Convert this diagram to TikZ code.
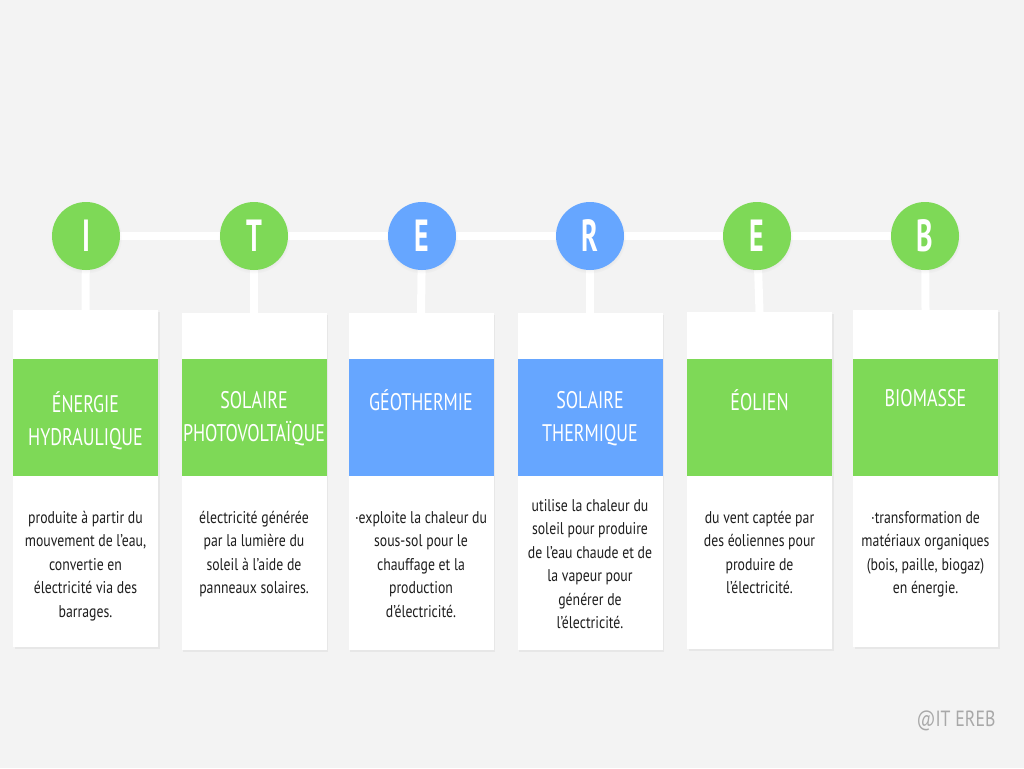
\documentclass[tikz,border=0pt]{standalone}
\usepackage{fontspec}
\setmainfont{PT Sans}[FakeStretch=0.81]
\newfontfamily\headfont{PT Sans}[FakeStretch=0.75]
\newfontfamily\letterfont{PT Sans}[FakeStretch=0.62]
\usetikzlibrary{shadows}
\definecolor{paper}{HTML}{F3F3F3}
\definecolor{leaf}{HTML}{7ED957}
\definecolor{sky}{HTML}{66A6FF}
\definecolor{ink}{HTML}{1E1E1E}
\definecolor{mark}{HTML}{A8A8A8}
\pgfdeclarelayer{background}
\pgfdeclarelayer{links}
\pgfsetlayers{background,links,main}
\begin{document}
\begin{tikzpicture}[x=1pt,y=-1pt,
  dot/.style={circle, minimum size=68pt, inner sep=0pt, text=white,
    font=\letterfont\bfseries\fontsize{45}{45}\selectfont,
    circular drop shadow={shadow xshift=0pt, shadow yshift=-1.5pt, shadow scale=1.06, opacity=0.12}},
  card/.style={rectangle, fill=white, minimum width=145pt, minimum height=337pt,
    inner sep=0pt, anchor=north,
    drop shadow={shadow xshift=1.5pt, shadow yshift=-1.5pt, opacity=0.10}},
  band/.style={rectangle, minimum width=145pt, minimum height=117pt,
    inner sep=0pt, anchor=north},
  title/.style={anchor=north, align=center, text=white, inner sep=0pt,
    font=\headfont\fontsize{24}{33}\selectfont},
  body/.style={anchor=north, align=center, text=ink, inner sep=0pt,
    font=\fontsize{17}{23.5}\selectfont},
  link/.style={draw=white, line width=8pt}]

\begin{pgfonlayer}{background}
  \fill[paper] (0,0) rectangle (1024,768);
\end{pgfonlayer}
\useasboundingbox (0,0) rectangle (1024,768);

% letter discs
\node[dot, fill=leaf] (c1) at (86,236) {I};
\node[dot, fill=leaf] (c2) at (254,236) {T};
\node[dot, fill=sky]  (c3) at (422,236) {E};
\node[dot, fill=sky]  (c4) at (590,236) {R};
\node[dot, fill=leaf] (c5) at (757,236) {E};
\node[dot, fill=leaf] (c6) at (925,236) {B};

% cards
\node[card] (k1) at (85.5,310) {};
\node[card] (k2) at (254,313) {};
\node[card] (k3) at (421,313) {};
\node[card] (k4) at (590,313) {};
\node[card] (k5) at (759.5,312) {};
\node[card] (k6) at (925.5,310) {};

% coloured bands
\node[band, fill=leaf] (b1) at (85.5,359) {};
\node[band, fill=leaf] (b2) at (254,359) {};
\node[band, fill=sky]  (b3) at (421,359) {};
\node[band, fill=sky]  (b4) at (590,359) {};
\node[band, fill=leaf] (b5) at (759.5,359) {};
\node[band, fill=leaf] (b6) at (925.5,359) {};

% titles
\node[title] (h1) at (85.5,391) {ÉNERGIE\\HYDRAULIQUE};
\node[title] (h2) at (254,391) {SOLAIRE\\PHOTOVOLTAÏQUE};
\node[title] (h3) at (421,389) {GÉOTHERMIE};
\node[title] (h4) at (590,391) {SOLAIRE\\THERMIQUE};
\node[title] (h5) at (759.5,389) {ÉOLIEN};
\node[title] (h6) at (925.5,389) {BIOMASSE};

% descriptions
\node[body] (t1) at (85.5,511) {produite à partir du\\mouvement de l'eau,\\convertie en\\électricité via des\\barrages.};
\node[body] (t2) at (254,511) {électricité générée\\par la lumière du\\soleil à l'aide de\\panneaux solaires.};
\node[body] (t3) at (421,511) {·exploite la chaleur du\\sous-sol pour le\\chauffage et la\\production\\d'électricité.};
\node[body] (t4) at (590,499) {utilise la chaleur du\\soleil pour produire\\de l'eau chaude et de\\la vapeur pour\\générer de\\l'électricité.};
\node[body] (t5) at (759.5,511) {du vent captée par\\des éoliennes pour\\produire de\\l'électricité.};
\node[body] (t6) at (925.5,511) {·transformation de\\matériaux organiques\\(bois, paille, biogaz)\\en énergie.};

% signature
\node[text=mark, font=\fontsize{22}{22}\selectfont, inner sep=0pt] (sig) at (956,721) {@IT EREB};

% connectors
\begin{pgfonlayer}{links}
  \draw[link] (c1) -- (c2);
  \draw[link] (c2) -- (c3);
  \draw[link] (c3) -- (c4);
  \draw[link] (c4) -- (c5);
  \draw[link] (c5) -- (c6);
  \draw[link] (c1) -- (k1.north);
  \draw[link] (c2) -- (k2.north);
  \draw[link] (c3) -- (k3.north);
  \draw[link] (c4) -- (k4.north);
  \draw[link] (c5) -- (k5.north);
  \draw[link] (c6) -- (k6.north);
\end{pgfonlayer}
\end{tikzpicture}
\end{document}
